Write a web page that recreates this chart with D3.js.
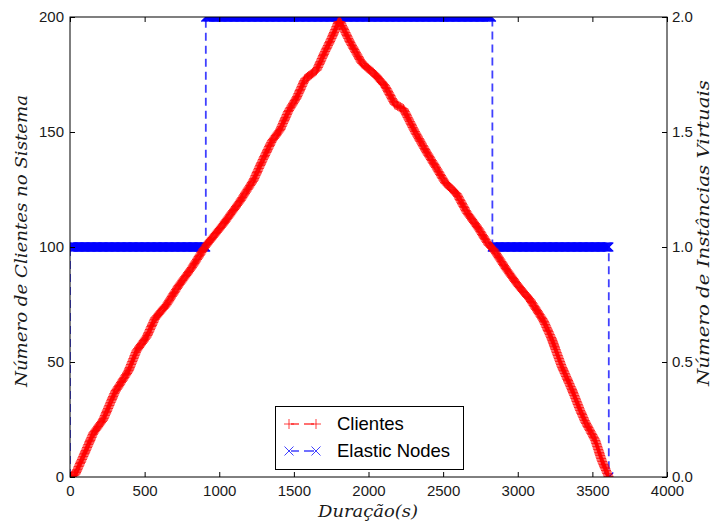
<html>
<head>
    <meta charset="utf-8">
    <title>Clientes x Elastic Nodes</title>
    <script src="https://d3js.org/d3.v7.min.js"></script>
    <style>
        body { margin: 0; background: #fff; }
    </style>
</head>
<body>
    <script>
        // clientes no sistema
        const clientTimes = [0, 34, 89, 156, 223, 302, 391, 447, 514, 570, 648, 726, 816, 894, 916, 1028, 1140, 1229, 1285, 1352, 1408, 1463, 1519, 1575, 1653, 1709, 1754, 1800, 1810, 1877, 1955, 2044, 2111, 2178, 2234, 2312, 2391, 2458, 2513, 2592, 2659, 2737, 2804, 2837, 2927, 3005, 3083, 3172, 3228, 3295, 3363, 3418, 3452, 3519, 3564, 3610]
        const clientValues = [0, 1, 9, 19, 25, 37, 46, 55, 61, 69, 75, 83, 91, 99, 101, 110, 120, 129, 137, 146, 151, 159, 165, 173, 177, 185, 191, 198, 198, 189, 180, 175, 170, 162, 160, 150, 141, 134, 128, 123, 115, 108, 101, 99, 90, 83, 77, 68, 60, 48, 38, 29, 24, 16, 7, 0]

        // instancias virtuais: inicio de cada degrau e valor
        const nodeTimes = [0, 910, 2830, 3610]
        const nodeValues = [1, 2, 1, 0]

        const xTicks = [0, 500, 1000, 1500, 2000, 2500, 3000, 3500, 4000]
        const leftTicks = [0, 50, 100, 150, 200]
        const rightTicks = [0, 0.5, 1.0, 1.5, 2.0]
        const legendLabels = ['Clientes', 'Elastic Nodes']

        const width = 713, height = 530
        const plotLeft = 70, plotRight = 667, plotTop = 17, plotBottom = 477

        const x = d3.scaleLinear().domain([0, 4000]).range([plotLeft, plotRight])
        const yLeft = d3.scaleLinear().domain([0, 200]).range([plotBottom, plotTop])
        const yRight = d3.scaleLinear().domain([0, 2]).range([plotBottom, plotTop])

        const svg = d3.select('body').append('svg')
            .attr('width', width)
            .attr('height', height)

        svg.append('clipPath').attr('id', 'plot')
            .append('rect')
            .attr('x', plotLeft).attr('y', plotTop)
            .attr('width', plotRight - plotLeft).attr('height', plotBottom - plotTop)

        const plot = svg.append('g').attr('clip-path', 'url(#plot)')

        const plusPath = 'M-5,0H5M0,-5V5'
        const crossPath = 'M-4.5,-4.5L4.5,4.5M-4.5,4.5L4.5,-4.5'

        // ---- elastic nodes (eixo direito) ----
        const nodePts = [[0, 0]]
        nodeTimes.forEach((t, i) => {
            nodePts.push([t, nodeValues[i]])
            if (i < nodeTimes.length - 1) nodePts.push([nodeTimes[i + 1], nodeValues[i]])
        })
        const nodeLine = d3.line().x(d => x(d[0])).y(d => yRight(d[1]))

        plot.append('path')
            .attr('d', nodeLine(nodePts))
            .attr('fill', 'none')
            .attr('stroke', '#0000ff')
            .attr('stroke-opacity', 0.75)
            .attr('stroke-width', 1.8)
            .attr('stroke-dasharray', '8,5')

        // marcadores ao longo de cada degrau
        const nodeMarks = []
        nodeTimes.forEach((t, i) => {
            if (i === nodeTimes.length - 1) {
                nodeMarks.push([x(t), yRight(nodeValues[i])])
                return
            }
            const x0 = x(t), x1 = x(nodeTimes[i + 1])
            for (let px = x0; px <= x1; px += 1.2) nodeMarks.push([px, yRight(nodeValues[i])])
        })
        plot.append('g').selectAll('path')
            .data(nodeMarks)
            .enter()
            .append('path')
            .attr('d', crossPath)
            .attr('transform', d => `translate(${d[0]},${d[1]})`)
            .attr('fill', 'none')
            .attr('stroke', '#0000ff')
            .attr('stroke-width', 1.2)

        // ---- clientes (eixo esquerdo) ----
        const clientLine = d3.line().x((d, i) => x(clientTimes[i])).y(d => yLeft(d))
        const clientPath = plot.append('path')
            .attr('d', clientLine(clientValues))
            .attr('fill', 'none')
            .attr('stroke', '#ff0000')
            .attr('stroke-opacity', 0.75)
            .attr('stroke-width', 1.8)
            .attr('stroke-dasharray', '8,5')

        const pathNode = clientPath.node()
        const total = pathNode.getTotalLength()
        const clientMarks = []
        for (let l = 0; l <= total; l += 1.6) {
            const p = pathNode.getPointAtLength(l)
            clientMarks.push([p.x, p.y])
        }
        plot.append('g').selectAll('path')
            .data(clientMarks)
            .enter()
            .append('path')
            .attr('d', plusPath)
            .attr('transform', d => `translate(${d[0]},${d[1]})`)
            .attr('fill', 'none')
            .attr('stroke', '#ff0000')
            .attr('stroke-opacity', 0.85)
            .attr('stroke-width', 1.3)

        // ---- eixos ----
        const tickFont = g => g.selectAll('text')
            .attr('font-family', '"Liberation Sans", Arial, sans-serif')
            .attr('font-size', '15px')
            .attr('fill', '#1a1a1a')

        const clean = g => {
            g.select('.domain').remove()
            g.selectAll('line').attr('stroke', '#000')
        }

        svg.append('g')
            .attr('transform', `translate(0,${plotBottom})`)
            .call(d3.axisBottom(x).tickValues(xTicks).tickSize(-5).tickPadding(8).tickFormat(d3.format('d')))
            .call(clean).call(tickFont)

        svg.append('g')
            .attr('transform', `translate(0,${plotTop})`)
            .call(d3.axisTop(x).tickValues(xTicks).tickSize(-5).tickFormat(''))
            .call(clean)

        svg.append('g')
            .attr('transform', `translate(${plotLeft},0)`)
            .call(d3.axisLeft(yLeft).tickValues(leftTicks).tickSize(-5).tickPadding(6).tickFormat(d3.format('d')))
            .call(clean).call(tickFont)

        svg.append('g')
            .attr('transform', `translate(${plotRight},0)`)
            .call(d3.axisRight(yRight).tickValues(rightTicks).tickSize(-5).tickPadding(5).tickFormat(d3.format('.1f')))
            .call(clean).call(tickFont)

        svg.append('rect')
            .attr('x', plotLeft).attr('y', plotTop)
            .attr('width', plotRight - plotLeft).attr('height', plotBottom - plotTop)
            .attr('fill', 'none')
            .attr('stroke', '#000')
            .attr('stroke-width', 1)

        // ---- titulos dos eixos ----
        const labelFont = sel => sel
            .attr('font-family', '"DejaVu Serif", "Liberation Serif", serif')
            .attr('font-style', 'italic')
            .attr('font-size', '17px')
            .attr('fill', '#1a1a1a')
            .attr('text-anchor', 'middle')

        svg.append('text')
            .attr('transform', 'translate(27,241) rotate(-90)')
            .attr('textLength', 292)
            .attr('lengthAdjust', 'spacingAndGlyphs')
            .text('Número de Clientes no Sistema')
            .call(labelFont)

        svg.append('text')
            .attr('transform', 'translate(709,233) rotate(-90)')
            .attr('textLength', 306)
            .attr('lengthAdjust', 'spacingAndGlyphs')
            .text('Número de Instâncias Virtuais')
            .call(labelFont)

        svg.append('text')
            .attr('x', 368)
            .attr('y', 517)
            .attr('textLength', 100)
            .attr('lengthAdjust', 'spacingAndGlyphs')
            .text('Duração(s)')
            .call(labelFont)

        // ---- legenda ----
        const legend = svg.append('g')
        legend.append('rect')
            .attr('x', 275.5).attr('y', 406.5)
            .attr('width', 188).attr('height', 63)
            .attr('fill', '#fff')
            .attr('stroke', '#000')
            .attr('stroke-width', 1)

        const legendColors = ['#ff0000', '#0000ff']
        const legendMarks = [plusPath, crossPath]
        legendLabels.forEach((label, i) => {
            const cy = 424 + i * 27
            legend.append('line')
                .attr('x1', 289).attr('x2', 316)
                .attr('y1', cy).attr('y2', cy)
                .attr('stroke', legendColors[i])
                .attr('stroke-opacity', 0.75)
                .attr('stroke-width', 1.5)
                .attr('stroke-dasharray', '0,2,8,5,8')
            ;[289, 316].forEach(mx => {
                legend.append('path')
                    .attr('d', legendMarks[i])
                    .attr('transform', `translate(${mx},${cy})`)
                    .attr('fill', 'none')
                    .attr('stroke', legendColors[i])
                    .attr('stroke-opacity', 0.75)
                    .attr('stroke-width', 1)
            })
            legend.append('text')
                .attr('x', 337)
                .attr('y', cy + 5.5)
                .attr('font-family', '"Liberation Sans", Arial, sans-serif')
                .attr('font-size', '18.5px')
                .attr('fill', '#000')
                .text(label)
        })
    </script>
</body>
</html>
